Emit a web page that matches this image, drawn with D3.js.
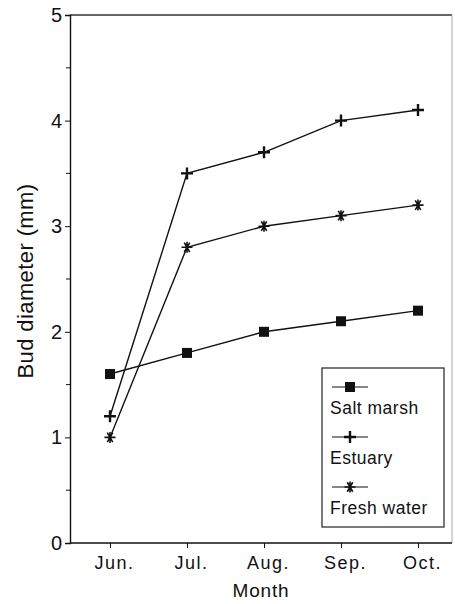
<!DOCTYPE html>
<html>
<head>
<meta charset="utf-8">
<script src="https://cdn.jsdelivr.net/npm/d3@7"></script>
<style>
  body { margin: 0; background: #fff; }
  svg text { font-family: "Liberation Sans", Arial, sans-serif; fill: #111; }
</style>
</head>
<body>
<svg id="chart"></svg>
<script>
// Data
const months = ["Jun.", "Jul.", "Aug.", "Sep.", "Oct."];
const saltMarsh = [1.6, 1.8, 2.0, 2.1, 2.2];
const estuary = [1.2, 3.5, 3.7, 4.0, 4.1];
const freshWater = [1.0, 2.8, 3.0, 3.1, 3.2];
const yTicks = [0, 1, 2, 3, 4, 5];
const yMinorTicks = [0.5, 1.5, 2.5, 3.5, 4.5];

const series = [
  { name: "Salt marsh", values: saltMarsh, symbol: "square" },
  { name: "Estuary", values: estuary, symbol: "plus" },
  { name: "Fresh water", values: freshWater, symbol: "star" }
];

const width = 455, height = 604;
const plotLeft = 70, plotRight = 452, plotTop = 15, plotBottom = 543;

const svg = d3.select("#chart")
  .attr("width", width)
  .attr("height", height);

// x is a point scale, padded in from the frame
const x = d3.scalePoint()
  .domain(months)
  .range([plotLeft + 40, plotRight - 34]);

const y = d3.scaleLinear()
  .domain([0, 5])
  .range([plotBottom, plotTop]);

// frame: dark top, faint right side
svg.append("line")
  .attr("x1", plotLeft).attr("x2", plotRight)
  .attr("y1", plotTop).attr("y2", plotTop)
  .attr("stroke", "#333").attr("stroke-width", 1.3);
svg.append("line")
  .attr("x1", plotRight).attr("x2", plotRight)
  .attr("y1", plotTop).attr("y2", plotBottom)
  .attr("stroke", "#aaa").attr("stroke-width", 1);

// y axis
const yAxis = svg.append("g")
  .attr("transform", `translate(${plotLeft},0)`)
  .call(d3.axisLeft(y).tickValues(yTicks).tickFormat(d3.format("d")).tickSize(5).tickPadding(3));
yAxis.select(".domain").attr("stroke", "#111").attr("stroke-width", 1.4);
yAxis.selectAll(".tick line").attr("stroke", "#111");
yAxis.selectAll("text").style("font-size", "20px");

svg.append("g")
  .attr("transform", `translate(${plotLeft},0)`)
  .selectAll("line")
  .data(yMinorTicks)
  .join("line")
  .attr("x1", -4).attr("x2", 0)
  .attr("y1", d => y(d)).attr("y2", d => y(d))
  .attr("stroke", "#111");

// x axis
const xAxis = svg.append("g")
  .attr("transform", `translate(0,${plotBottom})`)
  .call(d3.axisBottom(x).tickSize(5).tickPadding(6).tickSizeOuter(0));
xAxis.select(".domain").attr("d", `M${plotLeft},0H${plotRight}`).attr("stroke", "#111").attr("stroke-width", 1.4);
xAxis.selectAll(".tick line").attr("stroke", "#111");
xAxis.selectAll("text")
  .style("font-size", "18px")
  .style("letter-spacing", "1.5px")
  .attr("dx", 4)
  .attr("dy", "0.85em");

// axis titles
svg.append("text")
  .attr("x", 261)
  .attr("y", 597)
  .attr("text-anchor", "middle")
  .style("font-size", "19px")
  .style("letter-spacing", "0.8px")
  .text("Month");

svg.append("text")
  .attr("transform", `translate(33,${(plotTop + plotBottom) / 2 + 2}) rotate(-90)`)
  .attr("text-anchor", "middle")
  .style("font-size", "22px")
  .style("letter-spacing", "0.4px")
  .text("Bud diameter (mm)");

// marker drawing
function drawMarker(g, kind, cx, cy) {
  if (kind === "square") {
    g.append("rect")
      .attr("x", cx - 5).attr("y", cy - 5)
      .attr("width", 10).attr("height", 10)
      .attr("fill", "#111");
  } else if (kind === "plus") {
    g.append("path")
      .attr("d", `M${cx - 6},${cy}H${cx + 6}M${cx},${cy - 6}V${cy + 6}`)
      .attr("stroke", "#111").attr("stroke-width", 2.4);
  } else {
    const r = 5.5;
    let d = `M${cx - r},${cy}H${cx + r}`;
    [60, 120].forEach(a => {
      const dx = r * Math.cos(a * Math.PI / 180), dy = r * Math.sin(a * Math.PI / 180);
      d += `M${cx - dx},${cy - dy}L${cx + dx},${cy + dy}`;
    });
    d += `M${cx},${cy - r}V${cy + r}`;
    g.append("path").attr("d", d).attr("stroke", "#111").attr("stroke-width", 1.6);
  }
}

const line = d3.line()
  .x((d, i) => x(months[i]))
  .y(d => y(d));

series.forEach(s => {
  const g = svg.append("g");
  g.append("path")
    .attr("d", line(s.values))
    .attr("fill", "none")
    .attr("stroke", "#111")
    .attr("stroke-width", 1.4);
  s.values.forEach((v, i) => drawMarker(g, s.symbol, x(months[i]), y(v)));
});

// legend
const legend = svg.append("g");
legend.append("rect")
  .attr("x", 322).attr("y", 368)
  .attr("width", 122).attr("height", 159)
  .attr("fill", "#fff")
  .attr("stroke", "#222")
  .attr("stroke-width", 1.2);

series.forEach((s, i) => {
  const sy = 387 + i * 50;
  legend.append("line")
    .attr("x1", 332).attr("x2", 368)
    .attr("y1", sy).attr("y2", sy)
    .attr("stroke", "#111").attr("stroke-width", 1.2);
  drawMarker(legend, s.symbol, 350, sy);
  legend.append("text")
    .attr("x", 330)
    .attr("y", sy + 27)
    .style("font-size", "17.5px")
    .style("letter-spacing", "0.5px")
    .text(s.name);
});
</script>
</body>
</html>
